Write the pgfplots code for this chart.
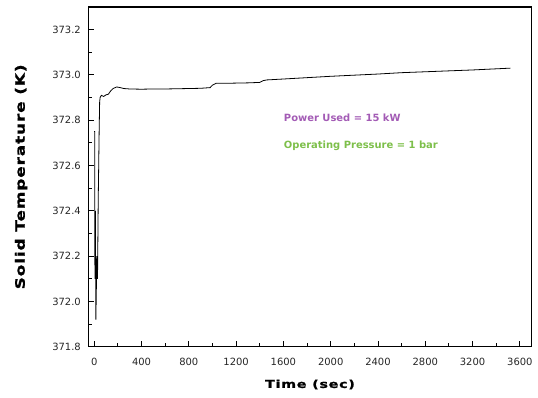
\documentclass[border=0pt]{standalone}
\usepackage{pgfplots}
\pgfplotsset{compat=1.18}
\usepackage{fontspec}
\setmainfont{DejaVu Sans}
\newfontfamily\tickfont{DejaVu Sans}
\newfontfamily\labfont[FakeStretch=1.3, LetterSpace=7, FakeBold=1.2]{DejaVu Sans Bold}
\definecolor{pwr}{HTML}{A35BB5}
\definecolor{prs}{HTML}{7DBF4A}
\begin{document}
\begin{tikzpicture}
\path[use as bounding box] (-88.3bp,-51.3bp) rectangle (449.7bp,346.7bp);
\begin{axis}[
  scale only axis,
  width=443.4bp, height=339.7bp,
  xmin=-50, xmax=3700, ymin=371.8, ymax=373.3,
  axis line style={line width=1.1pt},
  xtick={0,400,...,3600},
  ytick={371.8,372.0,372.2,372.4,372.6,372.8,373.0,373.2},
  minor x tick num=1, minor y tick num=1,
  tick align=inside, xtick pos=bottom, ytick pos=left,
  major tick length=6bp, minor tick length=3.5bp,
  tick style={line width=0.9pt, black},
  /pgf/number format/assume math mode=true,
  ticklabel style={font=\tickfont\fontsize{10}{11}\selectfont, color=black!85},
  x tick label style={/pgf/number format/.cd, fixed, 1000 sep={}, /tikz/.cd, yshift=-8bp},
  y tick label style={/pgf/number format/.cd, fixed, fixed zerofill, precision=1, 1000 sep={}, /tikz/.cd, xshift=-4bp},
  xlabel={Time (sec)},
  ylabel={Solid Temperature (K)},
  xlabel style={font=\labfont\fontsize{11}{12}\selectfont, yshift=-7bp},
  ylabel style={font=\labfont\fontsize{13}{14}\selectfont, yshift=18bp},
]
\addplot[black, line width=0.8pt] coordinates {
(0,372.75) (4,372.75) (6,372.10) (10,372.40) (14,371.92) (18,372.05) (22,372.20) (28,372.10) (34,372.45) (38,372.60) (42,372.76) (46,372.88) (50,372.90) (60,372.91) (80,372.905) (100,372.912) (120,372.915) (140,372.93) (160,372.94) (190,372.947) (220,372.944) (250,372.940) (300,372.938) (400,372.937) (500,372.938) (600,372.938) (700,372.939) (800,372.940) (900,372.941) (980,372.944) (1000,372.955) (1030,372.963) (1100,372.963) (1200,372.964) (1300,372.965) (1400,372.967) (1430,372.975) (1460,372.978) (1600,372.982) (1800,372.988) (2000,372.994) (2200,372.999) (2400,373.004) (2600,373.010) (2800,373.014) (3000,373.018) (3200,373.022) (3400,373.027) (3520,373.030)
};
\node[anchor=west, font=\bfseries\fontsize{10}{11}\selectfont, text=pwr] at (axis cs:1575,372.810) {Power Used = 15 kW};
\node[anchor=west, font=\bfseries\fontsize{10}{11}\selectfont, text=prs] at (axis cs:1575,372.685) {Operating Pressure = 1 bar};
\end{axis}
\end{tikzpicture}
\end{document}
